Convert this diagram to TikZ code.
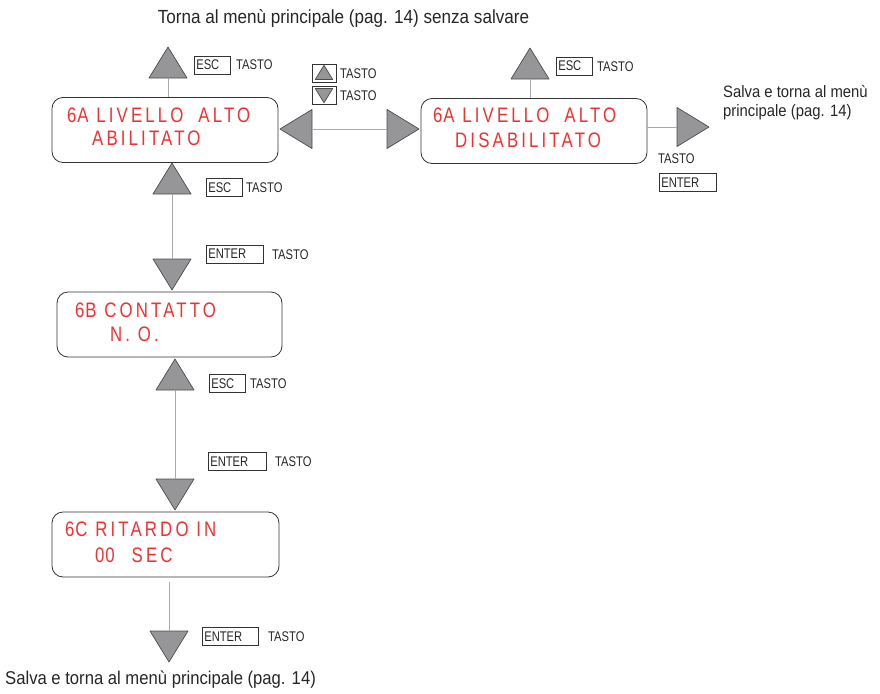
\documentclass[tikz,border=0pt]{standalone}
\usepackage{fontspec}
\setmainfont{Liberation Sans}
\newfontfamily\labfont[FakeStretch=0.8]{Liberation Sans}
\newfontfamily\notefont[FakeStretch=0.9]{Liberation Sans}
\newfontfamily\lcdfont[FakeStretch=0.8,LetterSpace=15]{Liberation Sans}
\newcommand\tight[1]{{\addfontfeature{LetterSpace=4}#1}}
\usetikzlibrary{calc, positioning}
\definecolor{lcdred}{RGB}{238,50,50}
\definecolor{trifill}{RGB}{150,150,153}
\definecolor{linkgray}{RGB}{170,170,170}
\tikzset{
  tri/.style={fill=trifill, draw=black!70, line width=0.7pt, line join=round},
  uptri/.pic={\path[tri] (-19,0) -- (0,-31) -- (19,0) -- cycle; \coordinate (-base) at (0,0);},
  dntri/.pic={\path[tri] (-19,0) -- (0,31) -- (19,0) -- cycle; \coordinate (-base) at (0,0);},
  lftri/.pic={\path[tri] (0,-19.5) -- (-32,0) -- (0,19.5) -- cycle; \coordinate (-base) at (0,0);},
  rttri/.pic={\path[tri] (0,-19.5) -- (32,0) -- (0,19.5) -- cycle; \coordinate (-base) at (0,0);},
  lcdbox/.style={draw=black!80, line width=0.8pt, rounded corners=11pt, minimum width=#1, minimum height=65pt, inner sep=0pt},
  lcd/.style={text=lcdred, font=\lcdfont\fontsize{21}{24}\selectfont, inner sep=0pt, anchor=west},
  lab/.style={font=\labfont\fontsize{14}{16}\selectfont, inner sep=0pt, text=black!85},
  note/.style={font=\notefont\fontsize{18.5}{20}\selectfont, inner sep=0pt, text=black!85},
  keybox/.style={draw=black!80, line width=0.6pt, text width=#1, align=left, inner xsep=2pt, inner ysep=0pt,
    minimum height=18pt, anchor=west, font=\labfont\fontsize{14}{16}\selectfont, text=black!85},
  smallkey/.style={draw=black!80, line width=0.6pt, minimum width=24pt, minimum height=18pt, inner sep=0pt},
  link/.style={draw=linkgray, line width=0.9pt}
}
\begin{document}
\begin{tikzpicture}[x=1pt,y=-1pt]
\useasboundingbox (0,0) rectangle (880,693);

\node[note, font=\notefont\fontsize{19}{20}\selectfont] (topnote) at (343.5,18) {Torna al menù principale (pag. 14) senza salvare};

\node[lcdbox=226pt] (dispA) at (165,130) {};
\node[lcd] (dispA1) at (67,115) {\tight{6A} LIVELLO\hspace{15pt}ALTO};
\node[lcd] (dispA2) at (92,138) {ABILITATO};

\node[lcdbox=226pt] (dispB) at (534,131) {};
\node[lcd] (dispB1) at (433,115) {\tight{6A} LIVELLO\hspace{15pt}ALTO};
\node[lcd] (dispB2) at (455,140) {DISABILITATO};

\node[lcdbox=225pt] (dispC) at (169.5,324.5) {};
\node[lcd] (dispC1) at (75,310) {\tight{6B} CONTATTO};
\node[lcd] (dispC2) at (110,334) {N. O.};

\node[lcdbox=227pt] (dispD) at (165.5,544.5) {};
\node[lcd] (dispD1) at (65,529) {\tight{6C} RITARDO IN};
\node[lcd] (dispD2) at (95,555) {\tight{00}\hspace{17pt}SEC};

% uscita da 6A abilitato
\pic (escA) at (168,78) {uptri};
\draw[link] (escA-base) -- (escA-base |- dispA.north);
\node[keybox=32pt] (keyEscA) at (194,65) {ESC};
\node[lab, anchor=west] (tastoEscA) at (236,65) {TASTO};

% scelta abilitato / disabilitato
\pic (selL) at (312,129) {lftri};
\pic (selR) at (387,129) {rttri};
\draw[link] (selL-base) -- (selR-base);
\node[smallkey] (keyUp) at (324,73) {};
\pic[scale=0.46] at ($(keyUp.center)+(0,6.5)$) {uptri};
\node[lab, anchor=west] (tastoUp) at (340,74) {TASTO};
\node[smallkey] (keyDn) at (324,95) {};
\pic[scale=0.46] at ($(keyDn.center)+(0,-6.5)$) {dntri};
\node[lab, anchor=west] (tastoDn) at (340,96) {TASTO};

% uscita da 6A disabilitato
\pic (escB) at (530,79) {uptri};
\draw[link] (escB-base) -- (escB-base |- dispB.north);
\node[keybox=32pt] (keyEscB) at (556,66) {ESC};
\node[lab, anchor=west] (tastoEscB) at (597,67) {TASTO};

\pic (saveB) at (677,127) {rttri};
\draw[link] (dispB.east |- saveB-base) -- (saveB-base);
\node[lab, anchor=west] (tastoSaveB) at (658,159) {TASTO};
\node[keybox=53pt] (keyEnterB) at (659,182.5) {ENTER};
\node[note, font=\notefont\fontsize{16.5}{19.5}\selectfont, anchor=north west, align=left] (saveNoteB) at (723,85) {Salva e torna al menù\\principale (pag. 14)};

% 6A -> 6B
\pic (escC) at (172,194) {uptri};
\pic (entC) at (172,259) {dntri};
\draw[link] (escC-base) -- (entC-base);
\node[keybox=32pt] (keyEscC) at (206,187.5) {ESC};
\node[lab, anchor=west] (tastoEscC) at (246,188) {TASTO};
\node[keybox=53pt] (keyEnterC) at (206,254) {ENTER};
\node[lab, anchor=west] (tastoEnterC) at (272,255) {TASTO};

% 6B -> 6C
\pic (escD) at (175,390) {uptri};
\pic (entD) at (175,479) {dntri};
\draw[link] (escD-base) -- (entD-base);
\node[keybox=32pt] (keyEscD) at (209,383.5) {ESC};
\node[lab, anchor=west] (tastoEscD) at (250,384) {TASTO};
\node[keybox=54pt] (keyEnterD) at (208,461.5) {ENTER};
\node[lab, anchor=west] (tastoEnterD) at (275,462) {TASTO};

% uscita da 6C
\pic (entE) at (169,631) {dntri};
\draw[link] ([yshift=-5pt]entE-base |- dispD.south) -- (entE-base);
\node[keybox=52pt] (keyEnterE) at (202,636.5) {ENTER};
\node[lab, anchor=west] (tastoEnterE) at (268,637) {TASTO};
\node[note, anchor=west] (saveNoteE) at (5,680) {Salva e torna al menù principale (pag. 14)};
\end{tikzpicture}
\end{document}
